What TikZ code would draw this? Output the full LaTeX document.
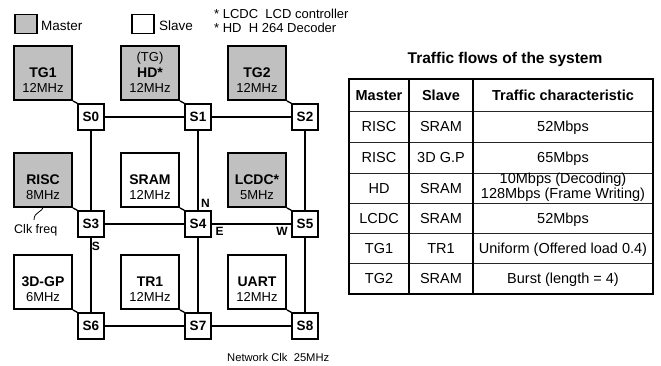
\documentclass[tikz,border=0pt]{standalone}
\usepackage{fontspec}
\setmainfont{Liberation Sans}
\definecolor{mgray}{RGB}{192,192,192}
\begin{document}
\begin{tikzpicture}[x=1pt,y=-1pt,
  sw/.style={draw,line width=1.6pt,fill=white,minimum size=26pt,inner sep=0pt,font=\bfseries\fontsize{13.5}{13.5}\selectfont},
  modbox/.style={draw,line width=2pt,minimum width=58pt,minimum height=54pt,inner sep=0pt},
  master/.style={modbox,fill=mgray},
  slave/.style={modbox,fill=white},
  mname/.style={anchor=base,inner sep=0pt,font=\bfseries\fontsize{14}{14}\selectfont},
  mfreq/.style={anchor=base,inner sep=0pt,font=\fontsize{13}{13}\selectfont},
  link/.style={line width=2pt},
  diag/.style={line width=1.4pt},
  dirlbl/.style={anchor=base,inner sep=0pt,font=\bfseries\fontsize{12}{12}\selectfont},
  txt/.style={anchor=base west,inner sep=0pt,font=\fontsize{13.5}{13.5}\selectfont},
  cell/.style={anchor=base,inner sep=0pt,font=\fontsize{14.5}{14.5}\selectfont},
  head/.style={anchor=base,inner sep=0pt,font=\bfseries\fontsize{14.5}{14.5}\selectfont},
  tline/.style={line width=2pt},
  hline/.style={line width=1pt,black!85},
  legbox/.style={draw,line width=1.6pt,minimum width=22pt,minimum height=19pt,inner sep=0pt}
]
\useasboundingbox (0,0) rectangle (661,365);

% legend
\node[legbox,fill=mgray] (lm) at (26,24) {};
\node[txt] (lmt) at (41,30) {Master};
\node[legbox,fill=white] (ls) at (143,24) {};
\node[txt] (lst) at (159,30) {Slave};
\node[txt,font=\fontsize{13}{13}\selectfont] (n1) at (214,18) {* LCDC\ \ LCD controller};
\node[txt,font=\fontsize{13}{13}\selectfont] (n2) at (214,32.5) {* HD\ \ H 264 Decoder};

% switches
\node[sw] (s0) at (91,117) {S0};
\node[sw] (s1) at (198,117) {S1};
\node[sw] (s2) at (305,117) {S2};
\node[sw] (s3) at (91,224) {S3};
\node[sw] (s4) at (198,224) {S4};
\node[sw] (s5) at (305,224) {S5};
\node[sw] (s6) at (91,326) {S6};
\node[sw] (s7) at (198,326) {S7};
\node[sw] (s8) at (305,326) {S8};

% links
\draw[link] (s0) -- (s1);
\draw[link] (s1) -- (s2);
\draw[link] (s3) -- (s4);
\draw[link] (s4) -- (s5);
\draw[link] (s6) -- (s7);
\draw[link] (s7) -- (s8);
\draw[link] (s0) -- (s3);
\draw[link] (s3) -- (s6);
\draw[link] (s1) -- (s4);
\draw[link] (s4) -- (s7);
\draw[link] (s2) -- (s5);
\draw[link] (s5) -- (s8);

% modules
\node[master] (tg1) at (43,73) {};
\node[master] (hd) at (150,73) {};
\node[master] (tg2) at (257,73) {};
\node[master] (risc) at (43,180) {};
\node[slave] (sram) at (150,180) {};
\node[master] (lcdc) at (257,180) {};
\node[slave] (gp) at (43,282) {};
\node[slave] (tr1) at (150,282) {};
\node[slave] (uart) at (257,282) {};

\node[mname] (tg1n) at ([yshift=-4.5pt]tg1.center) {TG1};
\node[mfreq] (tg1f) at ([yshift=-19pt]tg1.center) {12MHz};
\node[mfreq] (hdt) at ([yshift=12pt]hd.center) {(TG)};
\node[mname] (hdn) at ([yshift=-4.5pt]hd.center) {HD*};
\node[mfreq] (hdf) at ([yshift=-19pt]hd.center) {12MHz};
\node[mname] (tg2n) at ([yshift=-4.5pt]tg2.center) {TG2};
\node[mfreq] (tg2f) at ([yshift=-19pt]tg2.center) {12MHz};
\node[mname] (riscn) at ([yshift=-4.5pt]risc.center) {RISC};
\node[mfreq] (riscf) at ([yshift=-19pt]risc.center) {8MHz};
\node[mname] (sramn) at ([yshift=-4.5pt]sram.center) {SRAM};
\node[mfreq] (sramf) at ([yshift=-19pt]sram.center) {12MHz};
\node[mname] (lcdcn) at ([yshift=-4.5pt]lcdc.center) {LCDC*};
\node[mfreq] (lcdcf) at ([yshift=-19pt]lcdc.center) {5MHz};
\node[mname] (gpn) at ([yshift=-4.5pt]gp.center) {3D-GP};
\node[mfreq] (gpf) at ([yshift=-19pt]gp.center) {6MHz};
\node[mname] (tr1n) at ([yshift=-4.5pt]tr1.center) {TR1};
\node[mfreq] (tr1f) at ([yshift=-19pt]tr1.center) {12MHz};
\node[mname] (uartn) at ([yshift=-4.5pt]uart.center) {UART};
\node[mfreq] (uartf) at ([yshift=-19pt]uart.center) {12MHz};

% diagonal attachments
\draw[diag] (tg1.south east) -- (s0.north west);
\draw[diag] (hd.south east) -- (s1.north west);
\draw[diag] (tg2.south east) -- (s2.north west);
\draw[diag] (risc.south east) -- (s3.north west);
\draw[diag] (sram.south east) -- (s4.north west);
\draw[diag] (lcdc.south east) -- (s5.north west);
\draw[diag] (gp.south east) -- (s6.north west);
\draw[diag] (tr1.south east) -- (s7.north west);
\draw[diag] (uart.south east) -- (s8.north west);

% direction labels
\node[dirlbl] (dn) at (205.5,207) {N};
\node[dirlbl] (de) at (219.5,235) {E};
\node[dirlbl] (dw) at (282,235) {W};
\node[dirlbl] (ds) at (96,250) {S};

% clk freq
\coordinate (cfa) at (43,206);
\coordinate (cfb) at (34,220);
\draw[line width=0.8pt] (cfa) .. controls (43,213) and (34,211) .. (cfb);
\node[txt,font=\fontsize{12.5}{12.5}\selectfont] (cft) at (14,233) {Clk freq};
\node[txt,font=\fontsize{11.2}{11.2}\selectfont] (net) at (227,361.5) {Network Clk\ \ 25MHz};

% table
\node[anchor=base,inner sep=0pt,font=\bfseries\fontsize{15.5}{15.5}\selectfont] (ttl) at (505,63) {Traffic flows of the system};
\foreach \yy in {111,142,173,203,233,263} \draw[hline] (349,\yy) -- (653,\yy);
\draw[tline] (409,79) -- (409,294);
\draw[tline] (473,79) -- (473,294);
\draw[tline] (349,79) rectangle (653,294);

\node[head] (h1) at (379,100) {Master};
\node[head] (h2) at (441,100) {Slave};
\node[head] (h3) at (563,100) {Traffic characteristic};

\node[cell] (a1) at (379,131.5) {RISC};
\node[cell] (a2) at (441,131.5) {SRAM};
\node[cell] (a3) at (563,131.5) {52Mbps};
\node[cell] (b1) at (379,162.5) {RISC};
\node[cell] (b2) at (441,162.5) {3D G.P};
\node[cell] (b3) at (563,162.5) {65Mbps};
\node[cell] (c1) at (379,193) {HD};
\node[cell] (c2) at (441,193) {SRAM};
\node[cell] (c3) at (563,183) {10Mbps (Decoding)};
\node[cell] (c4) at (563,198.3) {128Mbps (Frame Writing)};
\node[cell] (d1) at (379,223) {LCDC};
\node[cell] (d2) at (441,223) {SRAM};
\node[cell] (d3) at (563,223) {52Mbps};
\node[cell] (e1) at (379,253) {TG1};
\node[cell] (e2) at (441,253) {TR1};
\node[cell] (e3) at (563,253) {Uniform (Offered load 0.4)};
\node[cell] (f1) at (379,283.5) {TG2};
\node[cell] (f2) at (441,283.5) {SRAM};
\node[cell] (f3) at (563,283.5) {Burst (length = 4)};
\end{tikzpicture}
\end{document}
